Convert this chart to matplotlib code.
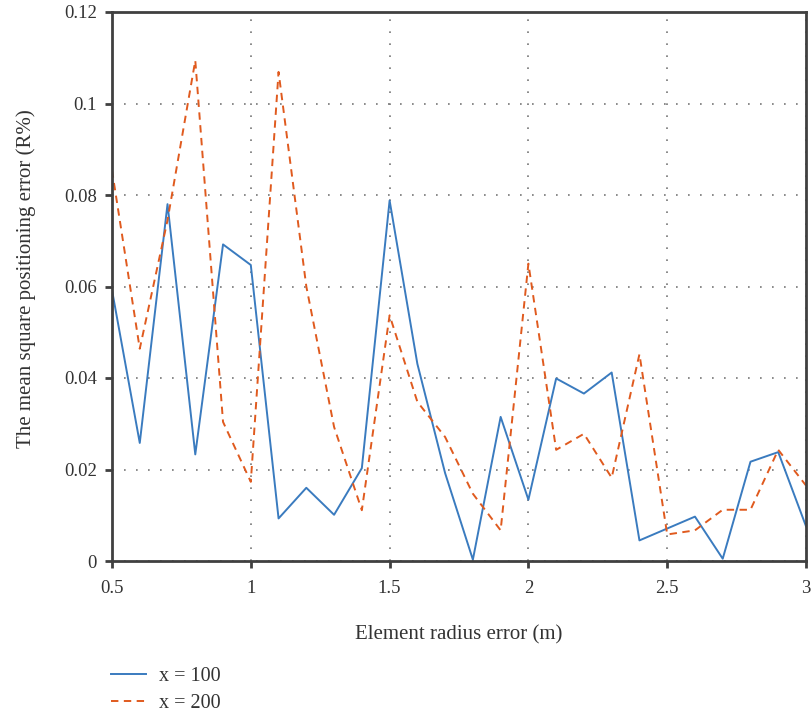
import matplotlib
matplotlib.use("Agg")
import matplotlib.pyplot as plt
import numpy as np

x_vals = [0.5, 0.6, 0.7, 0.8, 0.9, 1.0, 1.1, 1.2, 1.3, 1.4, 1.5, 1.6, 1.7,
          1.8, 1.9, 2.0, 2.1, 2.2, 2.3, 2.4, 2.5, 2.6, 2.7, 2.8, 2.9, 3.0]
x100 = [0.0592, 0.0258, 0.0780, 0.0233, 0.0692, 0.0647, 0.0093, 0.0160, 0.0101,
        0.0203, 0.0788, 0.0431, 0.0192, 0.0003, 0.0315, 0.0134, 0.0399, 0.0366,
        0.0412, 0.0045, 0.0071, 0.0097, 0.0005, 0.0217, 0.0238, 0.0076]
x200 = [0.0854, 0.0464, 0.0745, 0.1094, 0.0304, 0.0173, 0.1069, 0.0600, 0.0293,
        0.0111, 0.0537, 0.0348, 0.0271, 0.0147, 0.0067, 0.0650, 0.0243, 0.0278,
        0.0182, 0.0452, 0.0058, 0.0067, 0.0112, 0.0112, 0.0243, 0.0165]
series_labels = ["x = 100", "x = 200"]
xticks = [0.5, 1, 1.5, 2, 2.5, 3]
xtick_labels = ["0.5", "1", "1.5", "2", "2.5", "3"]
yticks = [0, 0.02, 0.04, 0.06, 0.08, 0.1, 0.12]
ytick_labels = ["0", "0.02", "0.04", "0.06", "0.08", "0.1", "0.12"]

plt.rcParams['font.family'] = ['Liberation Serif', 'DejaVu Serif']

fig = plt.figure(figsize=(8.11, 7.12), dpi=100)
ax = fig.add_axes([112/811, 1-561/712, (806-112)/811, (561-12)/712])

l1, = ax.plot(x_vals, x100, color="#3a7bbf", lw=1.4, label=series_labels[0])
l2, = ax.plot(x_vals, x200, color="#e05a1e", lw=1.4, linestyle=(0, (3.8, 2.8)),
              label=series_labels[1])

ax.set_xlim(0.5, 3)
ax.set_ylim(0, 0.12)
ax.set_xticks(xticks)
ax.set_xticklabels(xtick_labels)
ax.set_yticks(yticks)
ax.set_yticklabels(ytick_labels)
ax.grid(True, color="#777777", lw=1.2, linestyle=(0, (1, 6.2)))
ax.set_axisbelow(True)

for s in ax.spines.values():
    s.set_color("#404040")
    s.set_linewidth(2)
ax.tick_params(axis='both', direction='out', length=5, width=2, color="#404040",
               labelsize=13.5, labelcolor="#333333")
ax.tick_params(axis='x', pad=9)
ax.tick_params(axis='y', pad=6)

ax.set_xlabel("Element radius error (m)", fontsize=15, color="#333333")
ax.set_ylabel("The mean square positioning error (R%)", fontsize=15, color="#333333")
ax.xaxis.set_label_coords(0.5, -0.117)
ax.yaxis.set_label_coords(-0.11, 0.515)

fig.legend(handles=[l1, l2], labels=series_labels, loc="upper left",
           bbox_to_anchor=(111/811, 1-667/712), frameon=False, fontsize=14.5,
           handlelength=1.75, handletextpad=0.65, labelspacing=0.4,
           borderpad=0, borderaxespad=0, labelcolor="#333333")

fig.savefig("out.png", dpi=100)
